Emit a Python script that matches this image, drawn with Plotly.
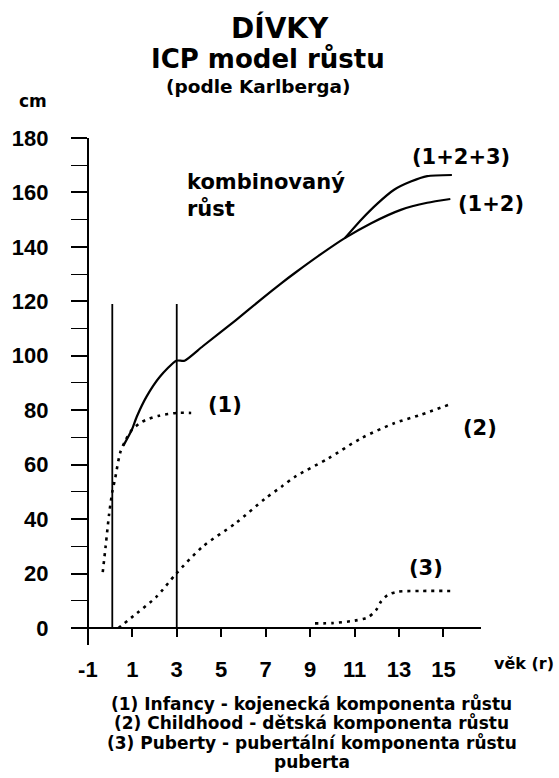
import plotly.graph_objects as go

# ---------------- data ----------------
infancy_age = [-0.33, -0.2, -0.04, 0.1, 0.23, 0.46, 0.7, 0.98, 1.3, 1.63, 2.2, 3.0, 3.65]
infancy_cm = [20.5, 30, 42, 50, 55, 64.5, 69, 72.8, 75, 76.5, 78, 79, 79]

childhood_age = [0.38, 1.2, 2.09, 2.98, 4.17, 5.65, 6.99, 7.73, 8.33, 9.82, 11.3, 12.78, 13.97, 15.24]
childhood_cm = [0, 5.4, 11.5, 20, 29.9, 38.5, 47.6, 52, 55.6, 62.3, 69.7, 75.2, 78.3, 82]

puberty_age = [9.22, 10.0, 11.0, 11.6, 11.97, 12.19, 12.49, 12.93, 14.0, 15.46]
puberty_cm = [1.7, 1.8, 2.7, 3.9, 6.6, 9.7, 12.1, 13.3, 13.6, 13.6]

combined_age = [0.6, 0.98, 1.2, 1.64, 2.24, 2.98, 3.35, 4.17, 5.65, 6.84, 7.73, 8.33, 9.52,
                10.56, 11.75, 13.08, 14.27, 15.31]
combined_cm = [67, 72.8, 77.6, 85, 92.3, 98.2, 98.2, 103.5, 113, 121, 126.8, 130.5, 137.5,
               143.2, 148.7, 153.6, 156.2, 157.6]

total_age = [10.56, 11.3, 12.04, 12.78, 13.53, 14.27, 15.38]
total_cm = [143.2, 150, 156, 161, 164, 166, 166.4]

phase_age = [0.1, 3.0]          # vertical phase boundaries
phase_top = 119

x_ticks = [-1, 1, 3, 5, 7, 9, 11, 13, 15]
y_ticks = [0, 20, 40, 60, 80, 100, 120, 140, 160, 180]
y_minor = [10, 30, 50, 70, 90, 110, 130, 150, 170]

label_texts = ["(1)", "(2)", "(3)", "(1+2)", "(1+2+3)"]

legend_lines = ["(1) Infancy - kojenecká komponenta růstu",
                "(2) Childhood - dětská komponenta růstu",
                "(3) Puberty - pubertální komponenta růstu",
                "puberta"]

# ---------------- layout geometry (pixels) ----------------
WIDTH, HEIGHT = 559, 778
L, R, T, B = 68, 78, 138, 133
PW, PH = WIDTH - L - R, HEIGHT - T - B
X0, X1 = -1.713, 16.69
Y0, Y1 = -6.25, 180

label_px = [(222, 405), (480, 428), (425, 568), (491, 204), (461, 157)]


def px(x):
    return (x - L) / PW


def py(y):
    return 1 - (y - T) / PH


TXT = "DejaVu Sans"
NUM = "Liberation Sans"


def font(size, family=TXT):
    return dict(family=family, size=size, color="black", weight="bold")


fig = go.Figure()

# phase boundaries
bx, byv = [], []
for a in phase_age:
    bx += [a, a, None]
    byv += [0, phase_top, None]
fig.add_trace(go.Scatter(x=bx, y=byv, mode="lines",
                         line=dict(color="black", width=1.8), hoverinfo="skip"))

dot = dict(color="black", width=2.6, dash="3px,5px", shape="spline", smoothing=0.8)
fig.add_trace(go.Scatter(x=infancy_age, y=infancy_cm, mode="lines", line=dot))
fig.add_trace(go.Scatter(x=childhood_age, y=childhood_cm, mode="lines", line=dot))
fig.add_trace(go.Scatter(x=puberty_age, y=puberty_cm, mode="lines", line=dot))

solid = dict(color="black", width=2.2, shape="spline", smoothing=0.6)
fig.add_trace(go.Scatter(x=combined_age, y=combined_cm, mode="lines", line=solid))
fig.add_trace(go.Scatter(x=total_age, y=total_cm, mode="lines", line=solid))

ann = []
for t, (lx, ly) in zip(label_texts, label_px):
    ann.append(dict(x=px(lx), y=py(ly), xref="paper", yref="paper", text=t, showarrow=False,
                    xanchor="center", yanchor="middle", font=font(21)))

ann.append(dict(x=px(182), y=py(195), xref="paper", yref="paper", text="kombinovaný<br>růst",
                showarrow=False, xanchor="left", yanchor="middle", align="left",
                font=font(21)))

# titles
ann.append(dict(x=px(278), y=py(28), xref="paper", yref="paper", text="DÍVKY",
                showarrow=False, xanchor="center", yanchor="middle", font=font(28)))
ann.append(dict(x=px(266), y=py(59), xref="paper", yref="paper", text="ICP model růstu",
                showarrow=False, xanchor="center", yanchor="middle", font=font(26)))
ann.append(dict(x=px(256), y=py(87), xref="paper", yref="paper", text="(podle Karlberga)",
                showarrow=False, xanchor="center", yanchor="middle", font=font(18.5)))
ann.append(dict(x=px(12), y=py(101), xref="paper", yref="paper", text="cm",
                showarrow=False, xanchor="left", yanchor="middle", font=font(17)))
ann.append(dict(x=px(492), y=py(663), xref="paper", yref="paper", text="věk (r)",
                showarrow=False, xanchor="left", yanchor="middle", font=font(16)))

for i, line in enumerate(legend_lines):
    ann.append(dict(x=px(310), y=py(703 + 19.8 * i), xref="paper", yref="paper", text=line,
                    showarrow=False, xanchor="center", yanchor="middle", font=font(17)))

fig.update_layout(
    width=WIDTH, height=HEIGHT,
    margin=dict(l=L, r=R, t=T, b=B, pad=0),
    paper_bgcolor="white", plot_bgcolor="white",
    showlegend=False,
    annotations=ann,
    xaxis=dict(range=[X0, X1], anchor="free", position=(0 - Y0) / (Y1 - Y0),
               showline=True, linecolor="black", linewidth=2,
               ticks="outside", ticklen=8, tickwidth=2, tickcolor="black",
               tickvals=x_ticks, ticktext=[str(v) for v in x_ticks],
               ticklabelstandoff=14,
               tickfont=font(22, NUM),
               showgrid=False, zeroline=False, fixedrange=True),
    yaxis=dict(range=[Y0, Y1], anchor="free", position=(-1 - X0) / (X1 - X0),
               showline=True, linecolor="black", linewidth=2,
               ticks="outside", ticklen=16, tickwidth=1.5, tickcolor="black",
               tickvals=y_ticks, ticktext=[str(v) for v in y_ticks],
               ticklabelstandoff=18,
               minor=dict(tickvals=y_minor, ticks="outside", ticklen=16, tickwidth=1.2,
                          tickcolor="black"),
               tickfont=font(22, NUM),
               showgrid=False, zeroline=False, fixedrange=True),
)

fig.write_html("out.html")
